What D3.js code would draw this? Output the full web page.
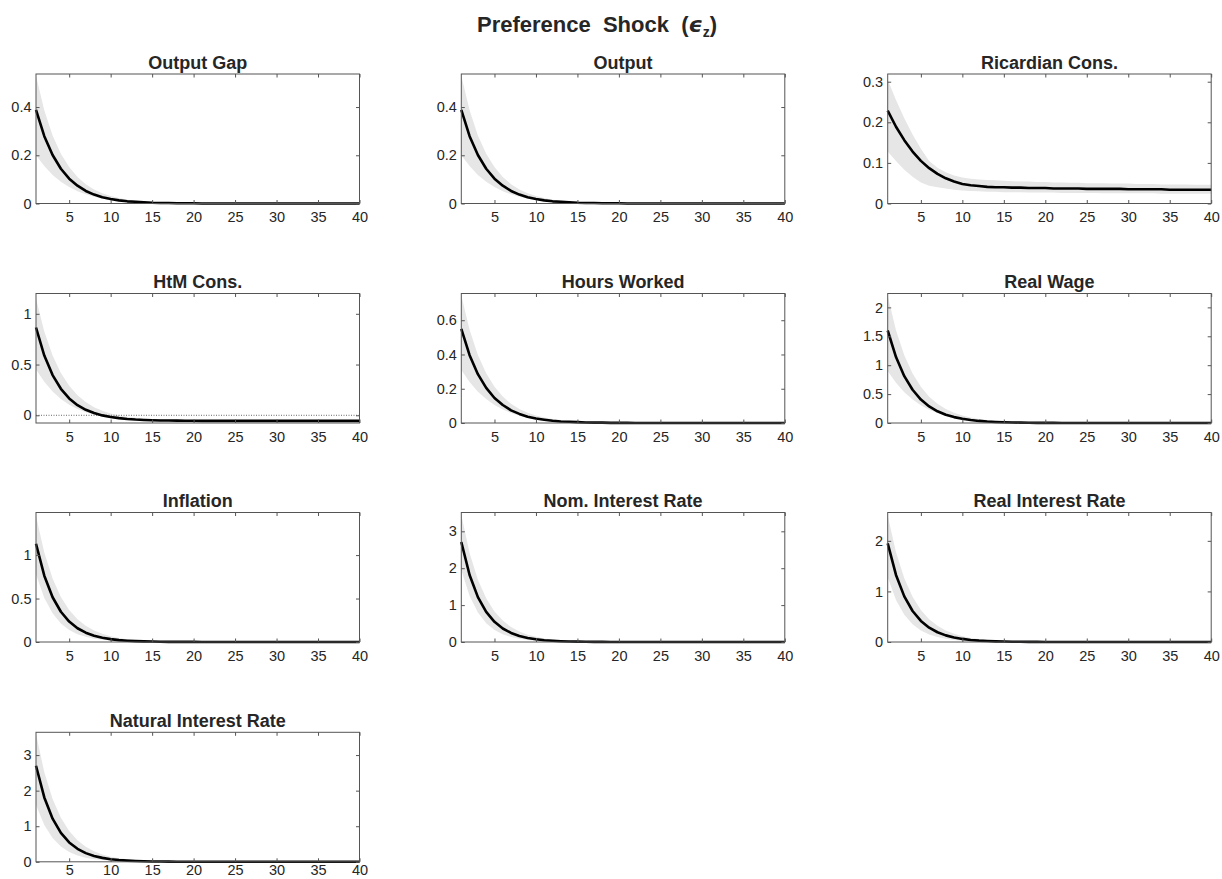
<!DOCTYPE html>
<html>
<head>
<meta charset="utf-8">
<script src="https://cdn.jsdelivr.net/npm/d3@7"></script>
<style>
  body { margin: 0; background: #fff; }
  svg { display: block; font-family: "Liberation Sans", Arial, Helvetica, sans-serif; }
</style>
</head>
<body>
<div id="chart"></div>
<script>
// Impulse responses to a preference shock, horizons 1..40
const periods = d3.range(1, 41);
const xTicks = [5, 10, 15, 20, 25, 30, 35, 40];

const titles = [
  'Output Gap', 'Output', 'Ricardian Cons.',
  'HtM Cons.', 'Hours Worked', 'Real Wage',
  'Inflation', 'Nom. Interest Rate', 'Real Interest Rate',
  'Natural Interest Rate'
];

const outputGapMean = [0.388, 0.279, 0.201, 0.144, 0.103, 0.074, 0.052, 0.037, 0.026, 0.019,
  0.013, 0.009, 0.007, 0.005, 0.003, 0.002, 0.002, 0.001, 0.001, 0.001,
  0, 0, 0, 0, 0, 0, 0, 0, 0, 0, 0, 0, 0, 0, 0, 0, 0, 0, 0, 0];
const outputGapHi = [0.53, 0.387, 0.282, 0.206, 0.151, 0.11, 0.08, 0.058, 0.042, 0.031,
  0.023, 0.016, 0.012, 0.009, 0.006, 0.005, 0.003, 0.002, 0.002, 0.001,
  0.001, 0.001, 0, 0, 0, 0, 0, 0, 0, 0, 0, 0, 0, 0, 0, 0, 0, 0, 0, 0];
const outputGapLo = [0.2, 0.155, 0.118, 0.09, 0.068, 0.051, 0.038, 0.028, 0.02, 0.014,
  0.01, 0.007, 0.005, 0.003, 0.002, 0.001, 0.001, 0.001, 0, 0,
  0, 0, 0, 0, 0, 0, 0, 0, 0, 0, 0, 0, 0, 0, 0, 0, 0, 0, 0, 0];

// output looks the same as the output gap in the picture
const outputMean = outputGapMean;
const outputHi = outputGapHi;
const outputLo = outputGapLo;

const ricardianMean = [0.229, 0.189, 0.156, 0.128, 0.105, 0.087, 0.073, 0.062, 0.054, 0.048,
  0.045, 0.043, 0.041, 0.040, 0.040, 0.039, 0.039, 0.038, 0.038, 0.038,
  0.037, 0.037, 0.037, 0.037, 0.036, 0.036, 0.036, 0.036, 0.036, 0.035,
  0.035, 0.035, 0.035, 0.035, 0.034, 0.034, 0.034, 0.034, 0.034, 0.034];
const ricardianHi = [0.305, 0.255, 0.21, 0.17, 0.135, 0.105, 0.088, 0.077, 0.069, 0.064,
  0.061, 0.059, 0.058, 0.057, 0.056, 0.055, 0.054, 0.054, 0.053, 0.053,
  0.052, 0.052, 0.051, 0.051, 0.050, 0.050, 0.050, 0.049, 0.049, 0.049,
  0.048, 0.048, 0.048, 0.047, 0.047, 0.047, 0.047, 0.046, 0.046, 0.046];
const ricardianLo = [0.128, 0.105, 0.083, 0.066, 0.052, 0.044, 0.040, 0.037, 0.034, 0.032,
  0.031, 0.030, 0.029, 0.029, 0.028, 0.028, 0.028, 0.027, 0.027, 0.027,
  0.027, 0.026, 0.026, 0.026, 0.026, 0.026, 0.025, 0.025, 0.025, 0.025,
  0.025, 0.025, 0.025, 0.024, 0.024, 0.024, 0.024, 0.024, 0.024, 0.024];

const htmMean = [0.865, 0.589, 0.396, 0.261, 0.166, 0.100, 0.054, 0.022, -0.001, -0.017,
  -0.028, -0.036, -0.042, -0.046, -0.049, -0.051, -0.052, -0.053, -0.054, -0.054,
  -0.055, -0.055, -0.055, -0.055, -0.055, -0.055, -0.055, -0.055, -0.055, -0.055,
  -0.055, -0.055, -0.055, -0.055, -0.055, -0.055, -0.055, -0.055, -0.055, -0.055];
const htmHi = [1.15, 0.826, 0.589, 0.416, 0.29, 0.197, 0.13, 0.08, 0.044, 0.018,
  -0.001, -0.014, -0.024, -0.031, -0.036, -0.04, -0.043, -0.045, -0.046, -0.047,
  -0.048, -0.048, -0.049, -0.049, -0.049, -0.05, -0.05, -0.05, -0.05, -0.05,
  -0.05, -0.05, -0.05, -0.05, -0.05, -0.05, -0.05, -0.05, -0.05, -0.05];
const htmLo = [0.45, 0.33, 0.235, 0.16, 0.105, 0.062, 0.03, 0.005, -0.013, -0.027,
  -0.037, -0.044, -0.049, -0.053, -0.055, -0.057, -0.058, -0.059, -0.06, -0.06,
  -0.061, -0.061, -0.061, -0.061, -0.061, -0.061, -0.061, -0.061, -0.061, -0.061,
  -0.061, -0.061, -0.061, -0.061, -0.061, -0.061, -0.061, -0.061, -0.061, -0.061];

const hoursMean = [0.55, 0.396, 0.285, 0.205, 0.146, 0.105, 0.074, 0.053, 0.037, 0.026,
  0.019, 0.013, 0.009, 0.007, 0.005, 0.003, 0.002, 0.002, 0.001, 0.001,
  0.001, 0, 0, 0, 0, 0, 0, 0, 0, 0, 0, 0, 0, 0, 0, 0, 0, 0, 0, 0];
const hoursHi = [0.745, 0.544, 0.397, 0.29, 0.212, 0.154, 0.112, 0.082, 0.06, 0.044,
  0.032, 0.023, 0.017, 0.013, 0.009, 0.007, 0.005, 0.004, 0.003, 0.002,
  0.001, 0.001, 0.001, 0.001, 0, 0, 0, 0, 0, 0, 0, 0, 0, 0, 0, 0, 0, 0, 0, 0];
const hoursLo = [0.31, 0.24, 0.183, 0.14, 0.105, 0.079, 0.059, 0.043, 0.031, 0.022,
  0.016, 0.011, 0.008, 0.005, 0.003, 0.002, 0.002, 0.001, 0, 0,
  0, 0, 0, 0, 0, 0, 0, 0, 0, 0, 0, 0, 0, 0, 0, 0, 0, 0, 0, 0];

const wageMean = [1.6, 1.14, 0.81, 0.575, 0.405, 0.287, 0.203, 0.144, 0.102, 0.072,
  0.051, 0.036, 0.025, 0.018, 0.013, 0.009, 0.006, 0.004, 0.003, 0.002,
  0.002, 0.001, 0.001, 0, 0, 0, 0, 0, 0, 0, 0, 0, 0, 0, 0, 0, 0, 0, 0, 0];
const wageHi = [2.2, 1.606, 1.173, 0.856, 0.625, 0.455, 0.332, 0.242, 0.176, 0.13,
  0.095, 0.068, 0.051, 0.037, 0.026, 0.02, 0.014, 0.01, 0.007, 0.006,
  0.004, 0.003, 0.002, 0.002, 0.001, 0.001, 0.001, 0, 0, 0, 0, 0, 0, 0, 0, 0, 0, 0, 0, 0];
const wageLo = [0.9, 0.698, 0.531, 0.405, 0.306, 0.23, 0.171, 0.126, 0.09, 0.063,
  0.045, 0.032, 0.023, 0.014, 0.009, 0.005, 0.004, 0.003, 0.002, 0.001,
  0, 0, 0, 0, 0, 0, 0, 0, 0, 0, 0, 0, 0, 0, 0, 0, 0, 0, 0, 0];

const inflationMean = [1.13, 0.763, 0.515, 0.348, 0.235, 0.158, 0.107, 0.072, 0.049, 0.033,
  0.022, 0.015, 0.01, 0.007, 0.005, 0.003, 0.002, 0.001, 0.001, 0.001,
  0, 0, 0, 0, 0, 0, 0, 0, 0, 0, 0, 0, 0, 0, 0, 0, 0, 0, 0, 0];
const inflationHi = [1.45, 1.03, 0.731, 0.519, 0.368, 0.262, 0.186, 0.132, 0.094, 0.066,
  0.047, 0.033, 0.024, 0.017, 0.012, 0.009, 0.006, 0.004, 0.003, 0.002,
  0.002, 0.001, 0.001, 0.001, 0, 0, 0, 0, 0, 0, 0, 0, 0, 0, 0, 0, 0, 0, 0, 0];
const inflationLo = [0.78, 0.507, 0.33, 0.214, 0.139, 0.09, 0.059, 0.038, 0.025, 0.016,
  0.011, 0.007, 0.005, 0.003, 0.002, 0.001, 0.001, 0, 0, 0,
  0, 0, 0, 0, 0, 0, 0, 0, 0, 0, 0, 0, 0, 0, 0, 0, 0, 0, 0, 0];

const nomRateMean = [2.71, 1.816, 1.217, 0.815, 0.546, 0.366, 0.245, 0.164, 0.11, 0.074,
  0.049, 0.033, 0.022, 0.015, 0.01, 0.007, 0.004, 0.003, 0.002, 0.001,
  0.001, 0.001, 0, 0, 0, 0, 0, 0, 0, 0, 0, 0, 0, 0, 0, 0, 0, 0, 0, 0];
const nomRateHi = [3.45, 2.415, 1.69, 1.183, 0.828, 0.58, 0.406, 0.284, 0.199, 0.139,
  0.097, 0.068, 0.048, 0.033, 0.023, 0.016, 0.011, 0.008, 0.006, 0.004,
  0.003, 0.002, 0.001, 0.001, 0.001, 0, 0, 0, 0, 0, 0, 0, 0, 0, 0, 0, 0, 0, 0, 0];
const nomRateLo = [1.95, 1.248, 0.799, 0.511, 0.327, 0.209, 0.134, 0.086, 0.055, 0.035,
  0.022, 0.014, 0.009, 0.006, 0.004, 0.003, 0.002, 0.001, 0.001, 0,
  0, 0, 0, 0, 0, 0, 0, 0, 0, 0, 0, 0, 0, 0, 0, 0, 0, 0, 0, 0];

const realRateMean = [1.95, 1.326, 0.902, 0.613, 0.417, 0.283, 0.193, 0.131, 0.089, 0.061,
  0.041, 0.028, 0.019, 0.013, 0.009, 0.006, 0.004, 0.003, 0.002, 0.001,
  0.001, 0.001, 0, 0, 0, 0, 0, 0, 0, 0, 0, 0, 0, 0, 0, 0, 0, 0, 0, 0];
const realRateHi = [2.5, 1.775, 1.26, 0.895, 0.635, 0.451, 0.32, 0.228, 0.162, 0.115,
  0.081, 0.058, 0.041, 0.029, 0.021, 0.015, 0.01, 0.007, 0.005, 0.004,
  0.003, 0.002, 0.001, 0.001, 0.001, 0, 0, 0, 0, 0, 0, 0, 0, 0, 0, 0, 0, 0, 0, 0];
const realRateLo = [1.28, 0.832, 0.541, 0.352, 0.228, 0.149, 0.097, 0.063, 0.041, 0.026,
  0.017, 0.011, 0.007, 0.005, 0.003, 0.002, 0.001, 0.001, 0, 0,
  0, 0, 0, 0, 0, 0, 0, 0, 0, 0, 0, 0, 0, 0, 0, 0, 0, 0, 0, 0];

const naturalRateMean = [2.7, 1.809, 1.212, 0.812, 0.544, 0.365, 0.244, 0.164, 0.11, 0.073,
  0.049, 0.033, 0.022, 0.015, 0.01, 0.007, 0.004, 0.003, 0.002, 0.001,
  0.001, 0.001, 0, 0, 0, 0, 0, 0, 0, 0, 0, 0, 0, 0, 0, 0, 0, 0, 0, 0];
const naturalRateHi = [3.6, 2.52, 1.764, 1.235, 0.864, 0.605, 0.424, 0.297, 0.208, 0.145,
  0.102, 0.071, 0.05, 0.035, 0.024, 0.017, 0.012, 0.008, 0.006, 0.004,
  0.003, 0.002, 0.001, 0.001, 0.001, 0, 0, 0, 0, 0, 0, 0, 0, 0, 0, 0, 0, 0, 0, 0];
const naturalRateLo = [1.6, 1.032, 0.666, 0.429, 0.277, 0.179, 0.115, 0.074, 0.048, 0.031,
  0.02, 0.013, 0.008, 0.005, 0.003, 0.002, 0.001, 0.001, 0, 0,
  0, 0, 0, 0, 0, 0, 0, 0, 0, 0, 0, 0, 0, 0, 0, 0, 0, 0, 0, 0];

// y limits and y tick labels per panel, as in the figure
const yDomains = [
  [0, 0.537], [0, 0.537], [0, 0.319],
  [-0.076, 1.2], [0, 0.756], [0, 2.24],
  [0, 1.49], [0, 3.51], [0, 2.56],
  [0, 3.64]
];
const yTickValues = [
  [0, 0.2, 0.4], [0, 0.2, 0.4], [0, 0.1, 0.2, 0.3],
  [0, 0.5, 1], [0, 0.2, 0.4, 0.6], [0, 0.5, 1, 1.5, 2],
  [0, 0.5, 1], [0, 1, 2, 3], [0, 1, 2],
  [0, 1, 2, 3]
];

const means = [outputGapMean, outputMean, ricardianMean, htmMean, hoursMean,
  wageMean, inflationMean, nomRateMean, realRateMean, naturalRateMean];
const highs = [outputGapHi, outputHi, ricardianHi, htmHi, hoursHi,
  wageHi, inflationHi, nomRateHi, realRateHi, naturalRateHi];
const lows = [outputGapLo, outputLo, ricardianLo, htmLo, hoursLo,
  wageLo, inflationLo, nomRateLo, realRateLo, naturalRateLo];

const panels = titles.map((title, i) => ({
  title,
  mean: means[i],
  hi: highs[i],
  lo: lows[i],
  domain: yDomains[i],
  ticks: yTickValues[i]
}));

// Layout (MATLAB subplot grid, 4 rows x 3 columns)
const width = 1222;
const height = 879;
const colLeft = [36, 461.3, 887.7];
const rowTop = [74, 293.5, 512.5, 732.3];
const pw = 323.5;
const ph = 129.5;
const tickLen = 3.5;
const axisColor = '#555';
const textColor = '#262626';

const svg = d3.select('#chart').append('svg')
  .attr('width', width)
  .attr('height', height);

// Figure title
const title = svg.append('text')
  .attr('x', 597)
  .attr('y', 32)
  .attr('text-anchor', 'middle')
  .attr('font-size', 22)
  .attr('font-weight', 'bold')
  .attr('fill', textColor)
  .style('white-space', 'pre');
title.append('tspan').text('Preference  Shock  (');
title.append('tspan').attr('font-family', 'DejaVu Sans').attr('font-style', 'italic').text('\u03f5');
title.append('tspan').attr('font-size', 14).attr('dy', 5).text('z');
title.append('tspan').attr('dy', -5).text(')');

const x = d3.scaleLinear().domain([1, 40]).range([0, pw]);

panels.forEach((p, i) => {
  const row = Math.floor(i / 3);
  const g = svg.append('g')
    .attr('transform', `translate(${colLeft[i % 3]},${rowTop[row]})`);

  const y = d3.scaleLinear().domain(p.domain).range([ph, 0]);

  // confidence band
  const area = d3.area()
    .x(t => x(t))
    .y0((t, j) => y(p.lo[j]))
    .y1((t, j) => y(p.hi[j]));

  g.append('path')
    .datum(periods)
    .attr('d', area)
    .attr('fill', '#e6e6e6');

  // dotted zero line where the panel dips below zero
  if (p.domain[0] < 0) {
    g.append('line')
      .attr('x1', 0).attr('x2', pw)
      .attr('y1', y(0)).attr('y2', y(0))
      .attr('stroke', '#000')
      .attr('stroke-width', 0.6)
      .attr('stroke-dasharray', '1,1.5');
  }

  const line = d3.line()
    .x(t => x(t))
    .y((t, j) => y(p.mean[j]));

  g.append('path')
    .datum(periods)
    .attr('d', line)
    .attr('fill', 'none')
    .attr('stroke', '#000')
    .attr('stroke-width', 2.6)
    .attr('stroke-linejoin', 'round');

  // axes, ticks inside on all four sides
  const styleAxis = sel => {
    sel.select('.domain').remove();
    sel.selectAll('.tick line').attr('stroke', axisColor);
    sel.selectAll('.tick text')
      .attr('fill', textColor)
      .attr('font-size', 14.5)
      .attr('font-family', '"Liberation Sans", Arial, Helvetica, sans-serif');
  };

  // bottom row labels sit right at the window edge, keep them inside
  const xPad = row === 3 ? 3.3 : 8.7;

  g.append('g')
    .attr('transform', `translate(0,${ph})`)
    .call(d3.axisBottom(x).tickValues(xTicks).tickSize(-tickLen).tickPadding(xPad).tickFormat(d3.format('d')))
    .call(styleAxis);

  g.append('g')
    .call(d3.axisTop(x).tickValues(xTicks).tickSize(-tickLen).tickFormat(''))
    .call(styleAxis);

  g.append('g')
    .call(d3.axisLeft(y).tickValues(p.ticks).tickSize(-tickLen).tickPadding(4.5).tickFormat(d3.format('~g')))
    .call(styleAxis);

  g.append('g')
    .attr('transform', `translate(${pw},0)`)
    .call(d3.axisRight(y).tickValues(p.ticks).tickSize(-tickLen).tickFormat(''))
    .call(styleAxis);

  g.append('rect')
    .attr('width', pw)
    .attr('height', ph)
    .attr('fill', 'none')
    .attr('stroke', axisColor)
    .attr('stroke-width', 1);

  g.append('text')
    .attr('x', pw / 2)
    .attr('y', -5.5)
    .attr('text-anchor', 'middle')
    .attr('font-size', 18)
    .attr('font-weight', 'bold')
    .attr('fill', textColor)
    .text(p.title);
});
</script>
</body>
</html>
